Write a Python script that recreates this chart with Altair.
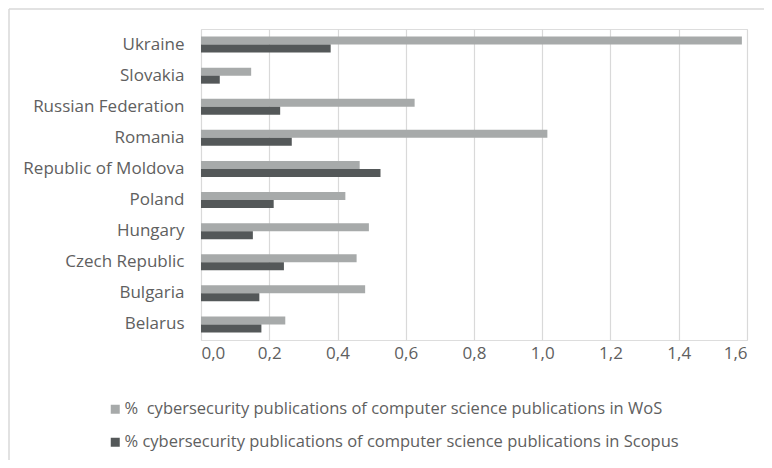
import altair as alt
import pandas as pd

countries = ["Ukraine", "Slovakia", "Russian Federation", "Romania", "Republic of Moldova",
             "Poland", "Hungary", "Czech Republic", "Bulgaria", "Belarus"]
wos = [1.585, 0.147, 0.626, 1.015, 0.465, 0.423, 0.492, 0.456, 0.481, 0.247]
scopus = [0.380, 0.055, 0.232, 0.266, 0.526, 0.213, 0.152, 0.243, 0.171, 0.177]
series = ["%\u00a0 cybersecurity publications of computer science publications in WoS",
          "% cybersecurity publications of computer science publications in Scopus"]
colors = ["#A7AAAA", "#545859"]

rows = []
for c, w, s in zip(countries, wos, scopus):
    rows.append({"country": c, "series": series[0], "value": w})
    rows.append({"country": c, "series": series[1], "value": s})
df = pd.DataFrame(rows)

FONT = "Open Sans"
TXT = "#606060"

bars = alt.Chart(df).mark_bar().encode(
    y=alt.Y("country:N", sort=countries, title=None,
            scale=alt.Scale(paddingInner=0.485, paddingOuter=0.2425),
            axis=alt.Axis(ticks=False, domain=False, grid=False, labelPadding=17,
                          labelFontSize=17, labelColor=TXT, labelFont=FONT)),
    yOffset=alt.YOffset("series:N", sort=series),
    x=alt.X("value:Q", title=None,
            scale=alt.Scale(domain=[0, 1.6], nice=False),
            axis=alt.Axis(values=[0, 0.2, 0.4, 0.6, 0.8, 1.0, 1.2, 1.4, 1.6],
                          labelExpr="replace(format(datum.value, '.1f'), '.', ',')",
                          ticks=False, domain=False, grid=True, gridColor="#D9D9D9",
                          gridWidth=1.2, labelPadding=5, labelFontSize=17,
                          labelColor=TXT, labelFont=FONT)),
    color=alt.Color("series:N", sort=series,
                    scale=alt.Scale(domain=series, range=colors),
                    legend=alt.Legend(title=None, orient="none", legendX=-94, legendY=372,
                                      direction="vertical", symbolType="square",
                                      symbolSize=81, symbolStrokeWidth=0,
                                      labelFontSize=16.5, labelColor=TXT,
                                      labelFont=FONT, rowPadding=16, labelOffset=1,
                                      labelLimit=700)),
)

one = pd.DataFrame({"a": [0]})
left_edge = alt.Chart(one).mark_rule(color="#D9D9D9", strokeWidth=1.5).encode(
    x=alt.value(-192), y=alt.value(-20), y2=alt.value(600))
top_edge = alt.Chart(one).mark_rule(color="#D9D9D9", strokeWidth=1.5).encode(
    y=alt.value(-20), x=alt.value(-192), x2=alt.value(800))

chart = alt.layer(left_edge, top_edge, bars).properties(
    width=546, height=311,
    autosize=alt.AutoSizeParams(type="none"),
    padding={"left": 193, "top": 21, "right": 17, "bottom": 120},
).configure_view(stroke=None).configure(background="white")

chart.save("out.html", embed_options={"renderer": "svg", "actions": False})
